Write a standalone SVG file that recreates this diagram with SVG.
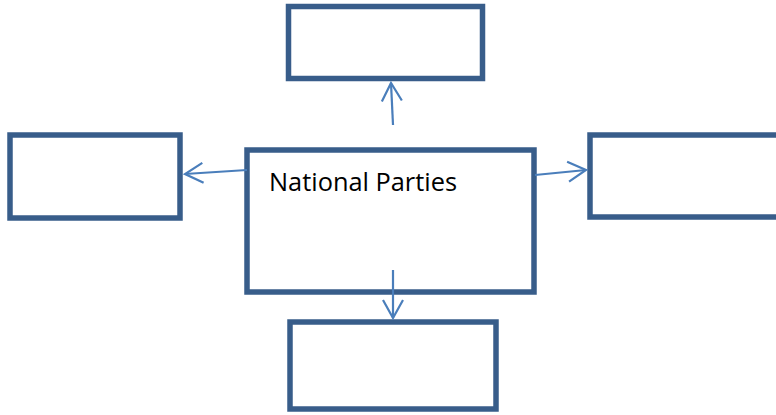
<svg xmlns="http://www.w3.org/2000/svg" width="776" height="415" viewBox="0 0 776 415">
  <style>
    .box { fill: #ffffff; stroke: #385D8A; stroke-width: 5.5; }
    .link { fill: none; stroke: #4A7EBB; stroke-width: 2.2; marker-end: url(#open-arrow); }
    .label { font-family: "Open Sans", "Liberation Sans", Arial, sans-serif; font-size: 26px; fill: #000000; }
  </style>
  <defs>
    <marker id="open-arrow" markerUnits="userSpaceOnUse" viewBox="-20 -12 22 24" refX="0" refY="0" markerWidth="22" markerHeight="24" orient="auto" overflow="visible">
      <path d="M-18,-10 L0,0 L-18,10" fill="none" stroke="#4A7EBB" stroke-width="2.2" stroke-linejoin="miter"/>
    </marker>
  </defs>
  <rect width="776" height="415" fill="#ffffff"/>

  <g id="node-top">
    <rect class="box" x="288.5" y="6.5" width="194" height="72"/>
  </g>
  <g id="node-left">
    <rect class="box" x="10" y="135" width="170" height="83"/>
  </g>
  <g id="node-right">
    <rect class="box" x="590" y="135" width="200" height="82"/>
  </g>
  <g id="node-bottom">
    <rect class="box" x="290" y="322" width="206" height="87"/>
  </g>
  <g id="node-center">
    <rect class="box" x="247" y="150" width="287" height="142"/>
    <text class="label" x="269" y="191" textLength="188" lengthAdjust="spacingAndGlyphs">National Parties</text>
  </g>

  <g id="connectors">
    <line class="link" x1="393" y1="125" x2="391" y2="83"/>
    <line class="link" x1="247" y1="170" x2="185" y2="174"/>
    <line class="link" x1="535" y1="175" x2="586" y2="170"/>
    <line class="link" x1="393" y1="270" x2="393" y2="318"/>
  </g>
</svg>
